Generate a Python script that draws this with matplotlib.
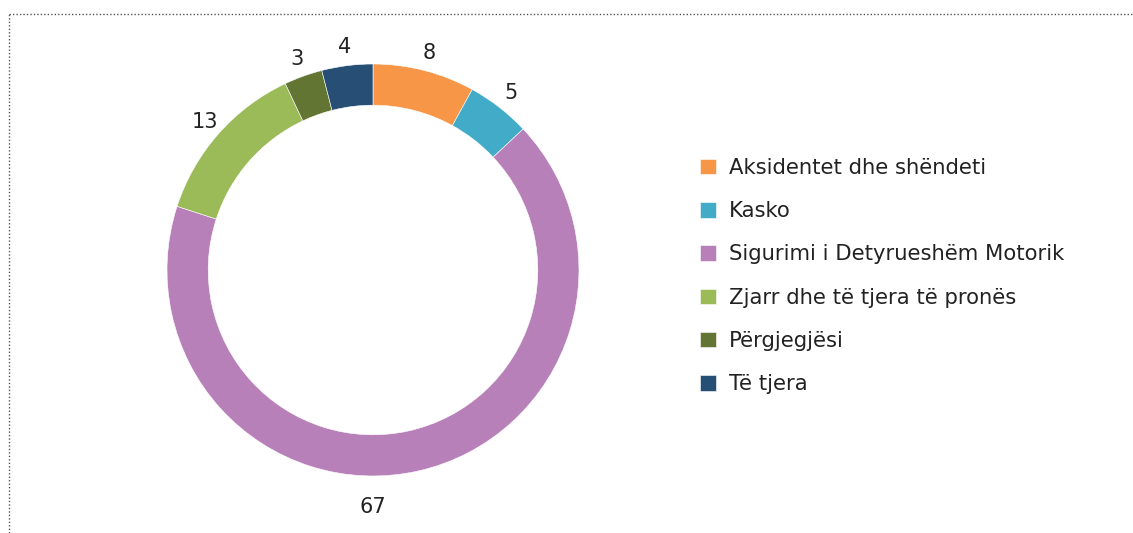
import numpy as np
import matplotlib.pyplot as plt
from matplotlib.lines import Line2D

categories = ['Aksidentet dhe shëndeti', 'Kasko', 'Sigurimi i Detyrueshëm Motorik',
              'Zjarr dhe të tjera të pronës', 'Përgjegjësi', 'Të tjera']
values = [8, 5, 67, 13, 3, 4]
colors = ['#F79646', '#42ABC8', '#B780B8', '#9BBB59', '#627532', '#274F75']

plt.rcParams['font.family'] = ['DejaVu Sans']

W, H = 1133, 533
fig = plt.figure(figsize=(W / 100, H / 100), dpi=100)

# axes sized so radius 1 -> ~206 px, centred at (373, 270)
R = 206
lim = 1.25
side = 2 * lim * R
cx, cy = 373, H - 270
ax = fig.add_axes([(cx - side / 2) / W, (cy - side / 2) / H, side / W, side / H])

wedges, _ = ax.pie(values, colors=colors, startangle=90, counterclock=False,
                   radius=1, wedgeprops=dict(width=0.2, edgecolor='white', linewidth=0.4))
ax.set_xlim(-lim, lim)
ax.set_ylim(-lim, lim)
ax.set_aspect('equal')
ax.axis('off')

# value labels just outside the ring
biggest = int(np.argmax(values))
for i, w in enumerate(wedges):
    ang = (w.theta1 + w.theta2) / 2
    r = 1.09
    if i == biggest:  # excel put the big one straight underneath
        ang, r = -90, 1.15
    x = r * np.cos(np.radians(ang))
    y = r * np.sin(np.radians(ang))
    ax.text(x, y, str(values[i]), ha='center', va='center', fontsize=15, color='#222222')

leg = fig.legend(wedges, categories, loc='upper left',
                 bbox_to_anchor=(700 / W, 1 - 158 / H), frameon=False,
                 fontsize=15.2, handlelength=0.76, handleheight=0.76,
                 handletextpad=0.62, labelspacing=1.1, borderpad=0, borderaxespad=0)
for t in leg.get_texts():
    t.set_color('#222222')

# dotted frame (top and left edges visible)
fig.add_artist(Line2D([9 / W, 1], [1 - 14 / H, 1 - 14 / H], transform=fig.transFigure,
                      color='#555555', linestyle=(0, (1, 1.5)), linewidth=1))
fig.add_artist(Line2D([9 / W, 9 / W], [0, 1 - 14 / H], transform=fig.transFigure,
                      color='#555555', linestyle=(0, (1, 1.5)), linewidth=1))

fig.savefig('out.png', dpi=100)
